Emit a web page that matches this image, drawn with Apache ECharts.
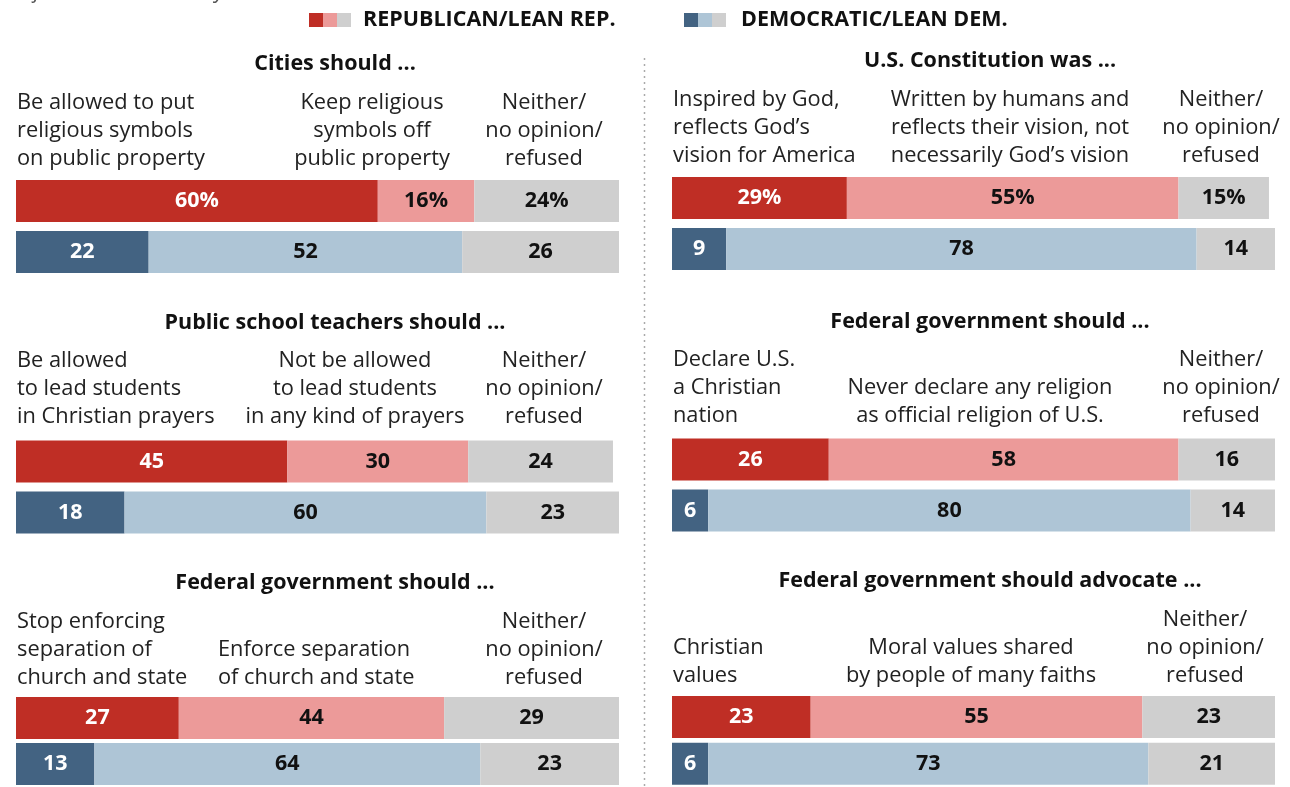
<!DOCTYPE html>
<html><head><meta charset="utf-8">
<script src="https://cdn.jsdelivr.net/npm/echarts@6/dist/echarts.min.js"></script>
<style>html,body{margin:0;padding:0;background:#fff}#c{width:1290px;height:787px}</style>
</head><body><div id="c"></div>
<script>
// ---- data ----
const panelTitles = [
  'Cities should ...',
  'Public school teachers should ...',
  'Federal government should ...',
  'U.S. Constitution was ...',
  'Federal government should ...',
  'Federal government should advocate ...'
];
const answerTexts = [
  ['Be allowed to put\nreligious symbols\non public property', 'Keep religious\nsymbols off\npublic property', 'Neither/\nno opinion/\nrefused'],
  ['Be allowed\nto lead students\nin Christian prayers', 'Not be allowed\nto lead students\nin any kind of prayers', 'Neither/\nno opinion/\nrefused'],
  ['Stop enforcing\nseparation of\nchurch and state', 'Enforce separation\nof church and state', 'Neither/\nno opinion/\nrefused'],
  ['Inspired by God,\nreflects God\u2019s\nvision for America', 'Written by humans and\nreflects their vision, not\nnecessarily God\u2019s vision', 'Neither/\nno opinion/\nrefused'],
  ['Declare U.S.\na Christian\nnation', 'Never declare any religion\nas official religion of U.S.', 'Neither/\nno opinion/\nrefused'],
  ['Christian\nvalues', 'Moral values shared\nby people of many faiths', 'Neither/\nno opinion/\nrefused']
];
const groups = ['Republican/Lean Rep.', 'Democratic/Lean Dem.'];
const legendLabels = ['REPUBLICAN/LEAN REP.', 'DEMOCRATIC/LEAN DEM.'];
const repValues = [[60,16,24],[45,30,24],[27,44,29],[29,55,15],[26,58,16],[23,55,23]];
const demValues = [[22,52,26],[18,60,23],[13,64,23],[9,78,14],[6,80,14],[6,73,21]];
const subtitle = '% of U.S. adults who say ...';

// ---- styles / layout ----
const repColors = ['#bf2e25', '#ec9a99', '#cfcfcf'];
const demColors = ['#436382', '#aec5d6', '#cfcfcf'];
const FONT = '"Open Sans", "Noto Sans", sans-serif';
const gridLeft = [16, 16, 16, 672, 672, 672];
const gridTop = [175.5, 436, 695, 172.5, 434, 693.5];
const titleY = [64, 323, 583, 61, 322, 581];
const titleX = [335, 335, 335, 990, 990, 990];
const textBottom = [173, 431, 692, 170, 430, 690];
// column anchors: [x, align]
const colPos = [
  [[17,'left'],[372,'center'],[544,'center']],
  [[17,'left'],[355,'center'],[544,'center']],
  [[17,'left'],[218,'left'],[544,'center']],
  [[673,'left'],[1010,'center'],[1221,'center']],
  [[673,'left'],[980,'center'],[1221,'center']],
  [[673,'left'],[971,'center'],[1205,'center']]
];

const grids = [], xAxes = [], yAxes = [], series = [], graphics = [];
for (let p = 0; p < 6; p++) {
  grids.push({left: gridLeft[p], top: gridTop[p], width: 603, height: 102});
  xAxes.push({gridIndex: p, type: 'value', min: 0, max: 100, show: false});
  yAxes.push({gridIndex: p, type: 'category', data: groups, inverse: true, show: false});
  for (let s = 0; s < 3; s++) {
    series.push({
      type: 'bar', xAxisIndex: p, yAxisIndex: p, stack: 'p' + p,
      barWidth: 42, clip: true, silent: true,
      data: [
        {value: repValues[p][s], itemStyle: {color: repColors[s]}},
        {value: demValues[p][s], itemStyle: {color: demColors[s]}}
      ],
      label: {
        show: true, position: 'inside',
        fontFamily: FONT, fontWeight: 'bold', fontSize: 21.5,
        color: s === 0 ? '#ffffff' : '#111111',
        formatter: (function (pp) {
          return function (d) { return d.value + ((pp === 0 || pp === 3) && d.dataIndex === 0 ? '%' : ''); };
        })(p)
      }
    });
  }
  graphics.push({
    type: 'text', x: titleX[p], y: titleY[p],
    style: {text: panelTitles[p], font: 'bold 21.5px ' + FONT, fill: '#111', align: 'center', verticalAlign: 'middle'}
  });
  for (let c = 0; c < 3; c++) {
    graphics.push({
      type: 'text', x: colPos[p][c][0], y: textBottom[p],
      style: {text: answerTexts[p][c], font: '21.8px ' + FONT, fill: '#222', lineHeight: 28,
        align: colPos[p][c][1], verticalAlign: 'bottom'}
    });
  }
}
// legends
const legX = [309, 684], legTextX = [363, 741];
for (let g = 0; g < 2; g++) {
  const cols = g === 0 ? repColors : demColors;
  for (let k = 0; k < 3; k++) {
    graphics.push({type: 'rect', shape: {x: legX[g] + k * 14, y: 13, width: 14, height: 14}, style: {fill: cols[k]}});
  }
  graphics.push({type: 'text', x: legTextX[g], y: 20,
    style: {text: legendLabels[g], font: 'bold 21.5px ' + FONT, fill: '#111', verticalAlign: 'middle'}});
}
graphics.push({type: 'text', x: 0, y: 3, style: {text: subtitle, font: 'italic 21px ' + FONT, fill: '#555', verticalAlign: 'bottom'}});
graphics.push({type: 'line', shape: {x1: 644.5, y1: 58, x2: 644.5, y2: 787}, style: {stroke: '#aaa', lineWidth: 1.5, lineDash: [2, 4]}});

const chart = echarts.init(document.getElementById('c'), null, {renderer: 'canvas'});
chart.setOption({
  animation: false,
  grid: grids, xAxis: xAxes, yAxis: yAxes, series: series,
  graphic: graphics
});
</script></body></html>
